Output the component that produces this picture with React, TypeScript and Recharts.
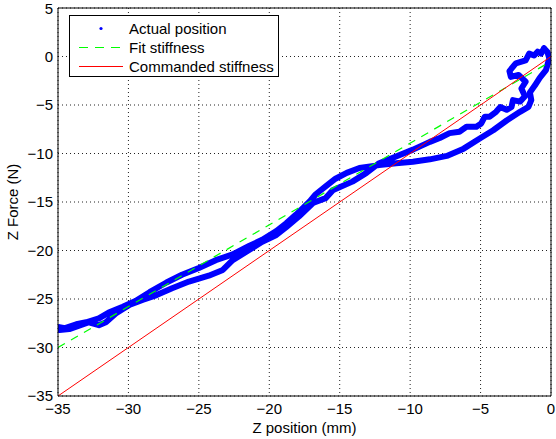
import { ComposedChart, Line, XAxis, YAxis, CartesianGrid, Legend } from 'recharts';

const FONT = '"Liberation Sans", Arial, Helvetica, sans-serif';

// measured hysteresis loop, traced round from the top right corner
const ACTUAL_X = [
  -0.5, -0.25, -0.12, -0.36, -0.8, -1.15, -1.5, -1.4, -1.6, -2.2, -3.15, -4.1, -5.0, -6.2, -7.4,
  -8.6, -9.8, -11.0, -12.2, -13.6, -14.5, -15.3, -16.0, -16.7, -17.1, -17.6, -18.1, -18.8, -19.5,
  -20.5, -21.4, -22.6, -23.8, -25.0, -26.2, -27.3, -28.5, -29.5, -30.4, -31.4, -32.1, -33.0, -33.7,
  -34.5, -34.9, -34.9, -34.2, -33.4, -32.8, -32.1, -31.6, -30.9, -29.9, -29.0, -28.0, -26.9, -25.7,
  -24.3, -23.3, -22.6, -21.6, -20.5, -19.5, -18.8, -17.9, -16.9, -16.0, -15.5, -14.1, -13.1, -12.2,
  -11.0, -9.8, -8.6, -7.9, -7.2, -6.5, -6.0, -5.3, -4.95, -4.7, -4.35, -3.9, -3.6, -3.15, -2.8, -2.7,
  -2.2, -1.85, -2.1, -1.8, -2.3, -2.85, -2.95, -2.5, -1.8, -1.55, -1.2, -0.95, -0.7, -0.5,
];
const ACTUAL_Y = [
  0.85, 0.45, -0.2, -1.4, -2.2, -3.0, -3.7, -4.5, -5.2, -5.7, -6.6, -7.6, -8.4, -9.5, -10.25,
  -10.6, -10.85, -11.0, -11.2, -11.5, -12.0, -12.6, -13.4, -14.2, -14.9, -15.6, -16.3, -17.2, -18.0,
  -18.9, -19.5, -20.4, -21.0, -21.8, -22.5, -23.3, -24.3, -25.2, -25.8, -26.4, -27.0, -27.4, -27.6,
  -28.0, -27.9, -28.2, -28.1, -27.7, -27.4, -27.7, -27.4, -26.5, -25.6, -25.1, -24.6, -23.9, -23.2,
  -22.6, -22.0, -21.0, -20.1, -19.1, -18.4, -17.6, -16.5, -15.1, -14.6, -13.8, -12.9, -12.0, -11.0,
  -10.3, -9.6, -8.8, -8.4, -7.9, -7.75, -7.25, -7.25, -6.9, -6.2, -6.2, -5.7, -5.2, -5.5, -5.2, -4.5,
  -4.65, -4.1, -3.3, -2.6, -1.9, -2.1, -1.5, -0.7, -0.4, 0.3, 0.1, 0.5, 0.3, 0.85,
];

const FIT_X = [-35, 0];
const FIT_Y = [-30, -0.5];

const CMD_X = [-35, 0];
const CMD_Y = [-35, 0];

const X_TICKS = [-35, -30, -25, -20, -15, -10, -5, 0];
const Y_TICKS = [-35, -30, -25, -20, -15, -10, -5, 0, 5];

const LEGEND_LABELS = ['Actual position', 'Fit stiffness', 'Commanded stiffness'];

const toPoints = (xs: number[], ys: number[]) => xs.map((x, i) => ({ x, y: ys[i] }));

const actualData = toPoints(ACTUAL_X, ACTUAL_Y);
const fitData = toPoints(FIT_X, FIT_Y);
const cmdData = toPoints(CMD_X, CMD_Y);

const minus = (v: number) => String(v).replace('-', '\u2212');

const tickStyle = { fill: '#000', fontSize: 15, fontFamily: FONT };

const LegendBox = () => (
  <div
    style={{
      boxSizing: 'border-box',
      width: 210,
      height: 62,
      border: '1px solid #000',
      background: '#fff',
      fontFamily: FONT,
      fontSize: 15,
      color: '#000',
      paddingTop: 3,
    }}
  >
    {LEGEND_LABELS.map((label, i) => (
      <div key={label} style={{ display: 'flex', alignItems: 'center', height: 19 }}>
        <svg width={44} height={19} style={{ marginLeft: 9, display: 'block' }}>
          {i === 0 && <circle cx={22} cy={9.5} r={1.6} fill="#0000ff" />}
          {i === 1 && (
            <line x1={0} x2={44} y1={9.5} y2={9.5} stroke="#00ff00" strokeWidth={1.2} strokeDasharray="9 7" />
          )}
          {i === 2 && <line x1={0} x2={44} y1={9.5} y2={9.5} stroke="#ff0000" />}
        </svg>
        <span style={{ marginLeft: 6, lineHeight: '19px', whiteSpace: 'nowrap' }}>{label}</span>
      </div>
    ))}
  </div>
);

export default function App() {
  return (
    <div style={{ position: 'absolute', left: 0, top: 0, background: '#fff' }}>
      <ComposedChart width={556} height={439} margin={{ top: 8, right: 5, bottom: 0, left: 0 }}>
        <CartesianGrid stroke="#222" strokeDasharray="1 3" />

        {/* labelled axes */}
        <XAxis
          type="number"
          dataKey="x"
          domain={[-35, 0]}
          ticks={X_TICKS}
          allowDataOverflow
          height={43}
          tickLine={false}
          tickSize={0}
          tickMargin={7}
          axisLine={{ stroke: '#000' }}
          tick={tickStyle}
          tickFormatter={minus}
          label={{
            value: 'Z position (mm)',
            position: 'insideBottom',
            offset: 6,
            fill: '#000',
            fontSize: 15,
            fontFamily: FONT,
          }}
        />
        <YAxis
          type="number"
          dataKey="y"
          domain={[-35, 5]}
          ticks={Y_TICKS}
          allowDataOverflow
          width={58}
          tickLine={false}
          tickSize={0}
          tickMargin={5}
          axisLine={{ stroke: '#000' }}
          tick={tickStyle}
          tickFormatter={minus}
          label={{
            value: 'Z Force (N)',
            angle: -90,
            position: 'insideLeft',
            offset: 13,
            fill: '#000',
            fontSize: 15,
            fontFamily: FONT,
            style: { textAnchor: 'middle' },
          }}
        />

        {/* inward tick marks and the box round the plot */}
        <XAxis
          xAxisId="xb"
          type="number"
          domain={[-35, 0]}
          ticks={X_TICKS}
          allowDataOverflow
          orientation="bottom"
          mirror
          tick={false}
          axisLine={false}
          tickLine={{ stroke: '#000' }}
          tickSize={5}
        />
        <XAxis
          xAxisId="xt"
          type="number"
          domain={[-35, 0]}
          ticks={X_TICKS}
          allowDataOverflow
          orientation="top"
          mirror
          tick={false}
          axisLine={{ stroke: '#000' }}
          tickLine={{ stroke: '#000' }}
          tickSize={5}
        />
        <YAxis
          yAxisId="yl"
          type="number"
          domain={[-35, 5]}
          ticks={Y_TICKS}
          allowDataOverflow
          orientation="left"
          mirror
          tick={false}
          axisLine={false}
          tickLine={{ stroke: '#000' }}
          tickSize={5}
        />
        <YAxis
          yAxisId="yr"
          type="number"
          domain={[-35, 5]}
          ticks={Y_TICKS}
          allowDataOverflow
          orientation="right"
          mirror
          tick={false}
          axisLine={{ stroke: '#000' }}
          tickLine={{ stroke: '#000' }}
          tickSize={5}
        />

        <Line
          data={actualData}
          dataKey="y"
          name="Actual position"
          stroke="#0000ff"
          strokeWidth={6}
          strokeLinejoin="round"
          strokeLinecap="round"
          dot={false}
          isAnimationActive={false}
        />
        <Line
          data={fitData}
          dataKey="y"
          name="Fit stiffness"
          stroke="#00ff00"
          strokeWidth={1.2}
          strokeDasharray="8 7"
          dot={false}
          isAnimationActive={false}
        />
        <Line
          data={cmdData}
          dataKey="y"
          name="Commanded stiffness"
          stroke="#ff0000"
          strokeWidth={1}
          dot={false}
          isAnimationActive={false}
        />

        <Legend
          layout="vertical"
          align="center"
          verticalAlign="middle"
          content={LegendBox}
          wrapperStyle={{ left: 69, top: 15, width: 210, height: 62 }}
        />
      </ComposedChart>
    </div>
  );
}
